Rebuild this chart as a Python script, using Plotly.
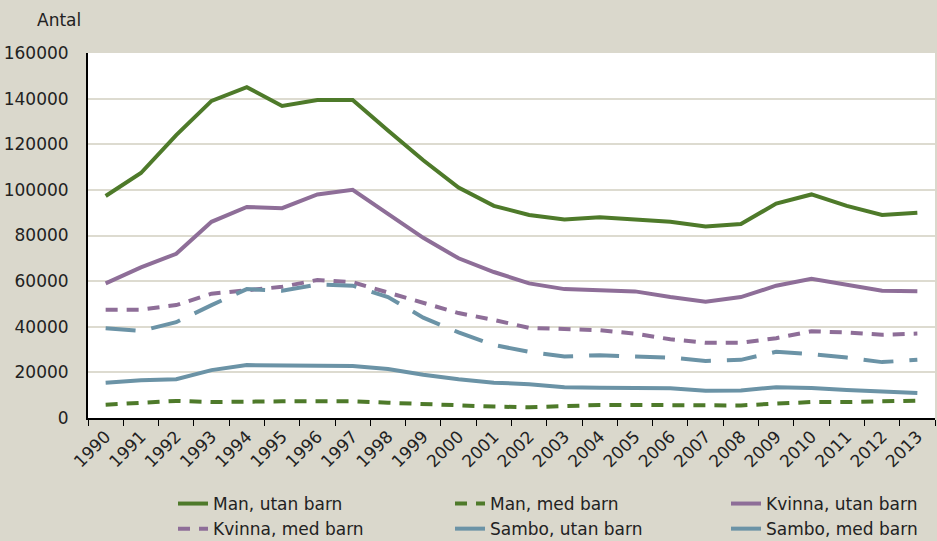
import plotly.graph_objects as go

years = [str(y) for y in range(1990, 2014)]

man_utan = [97300, 107400, 124000, 139000, 145000, 136800, 139400, 139400, 126000, 113000,
            101000, 93000, 89000, 87000, 88000, 87000, 86000, 84000, 85000, 94000,
            98000, 93000, 89000, 90000]
man_med = [5800, 6600, 7500, 7000, 7300, 7300, 7300, 7300, 6700, 6000,
           5400, 5000, 4700, 5300, 5700, 5700, 5700, 5500, 5500, 6300,
           7000, 7000, 7300, 7600]
kvinna_utan = [59000, 66000, 72000, 86000, 92500, 92000, 98000, 100000, 89500, 79000,
               70000, 64000, 59000, 56500, 56000, 55500, 53000, 51000, 53000, 58000,
               61000, 58500, 55800, 55600]
kvinna_med = [47500, 47500, 49500, 54500, 56000, 57500, 60500, 59500, 55000, 50500,
              46000, 43000, 39500, 39000, 38500, 37000, 34500, 33000, 33000, 35000,
              38000, 37500, 36500, 37000]
sambo_utan = [15500, 16500, 17000, 21000, 23200, 23000, 22600, 22800, 21500, 19000,
              17000, 15500, 14800, 13500, 13300, 13300, 13000, 12000, 12100, 13500,
              13200, 12300, 11500, 11000]
sambo_med = [39300, 38200, 42000, 49500, 56500, 55800, 58500, 58000, 53000, 44000,
             37500, 32000, 29000, 27000, 27500, 27000, 26500, 25000, 25500, 29000,
             28000, 26500, 24500, 25500]

y_ticks = [0, 20000, 40000, 60000, 80000, 100000, 120000, 140000, 160000]

GREEN = "#4E7A2A"
PURPLE = "#8E6E98"
BLUE = "#6B93A6"
BG = "#DAD8CC"

# (name, values, colour, dash, legend column)
series = [
    ("Man, utan barn", man_utan, GREEN, "solid", "legend"),
    ("Man, med barn", man_med, GREEN, "12px,9px", "legend2"),
    ("Kvinna, utan barn", kvinna_utan, PURPLE, "solid", "legend3"),
    ("Kvinna, med barn", kvinna_med, PURPLE, "12px,9px", "legend"),
    ("Sambo, utan barn", sambo_utan, BLUE, "solid", "legend2"),
    ("Sambo, med barn", sambo_med, BLUE, "30px,16px", "legend3"),
]

fig = go.Figure()
for name, vals, col, dash, lg in series:
    fig.add_trace(go.Scatter(x=years, y=vals, name=name, mode="lines", legend=lg,
                             line=dict(color=col, width=4, dash=dash)))

font = "DejaVu Sans"
TXT = "#222222"


def leg(x):
    return dict(orientation="v", x=x, xanchor="left", xref="container",
                y=1 - 486 / 541, yanchor="top", yref="container",
                font=dict(size=17, color=TXT, family=font), bgcolor="rgba(0,0,0,0)",
                tracegroupgap=0, itemwidth=30)


fig.update_layout(
    width=937, height=541,
    paper_bgcolor=BG, plot_bgcolor="white",
    margin=dict(l=88, r=2, t=53, b=123, autoexpand=False),
    font=dict(family=font, size=16, color=TXT),
    showlegend=True,
    legend=leg(173 / 937),
    legend2=leg(450 / 937),
    legend3=leg(726 / 937),
    xaxis=dict(type="category", range=[-0.5, 23.5], showgrid=False, automargin=False,
               showline=True, linecolor="black", linewidth=2,
               ticks="outside", tickson="boundaries", ticklen=6, tickcolor="black",
               tickangle=-45, tickfont=dict(size=17), zeroline=False),
    yaxis=dict(range=[0, 160000], tickvals=y_ticks, ticktext=[str(v) for v in y_ticks],
               showgrid=True, gridcolor="#DDDBD0", gridwidth=1.5, automargin=False,
               showline=True, linecolor="black", linewidth=2,
               ticks="", ticklabelstandoff=14, tickfont=dict(size=17), zeroline=False),
    annotations=[dict(text="Antal", xref="paper", yref="paper", x=-0.0624, y=1.09,
                      xanchor="left", yanchor="middle", showarrow=False,
                      font=dict(size=17, family=font, color=TXT))],
)

fig.write_html("out.html", config={"displayModeBar": False},
               post_script="document.body.style.margin='0px';")
